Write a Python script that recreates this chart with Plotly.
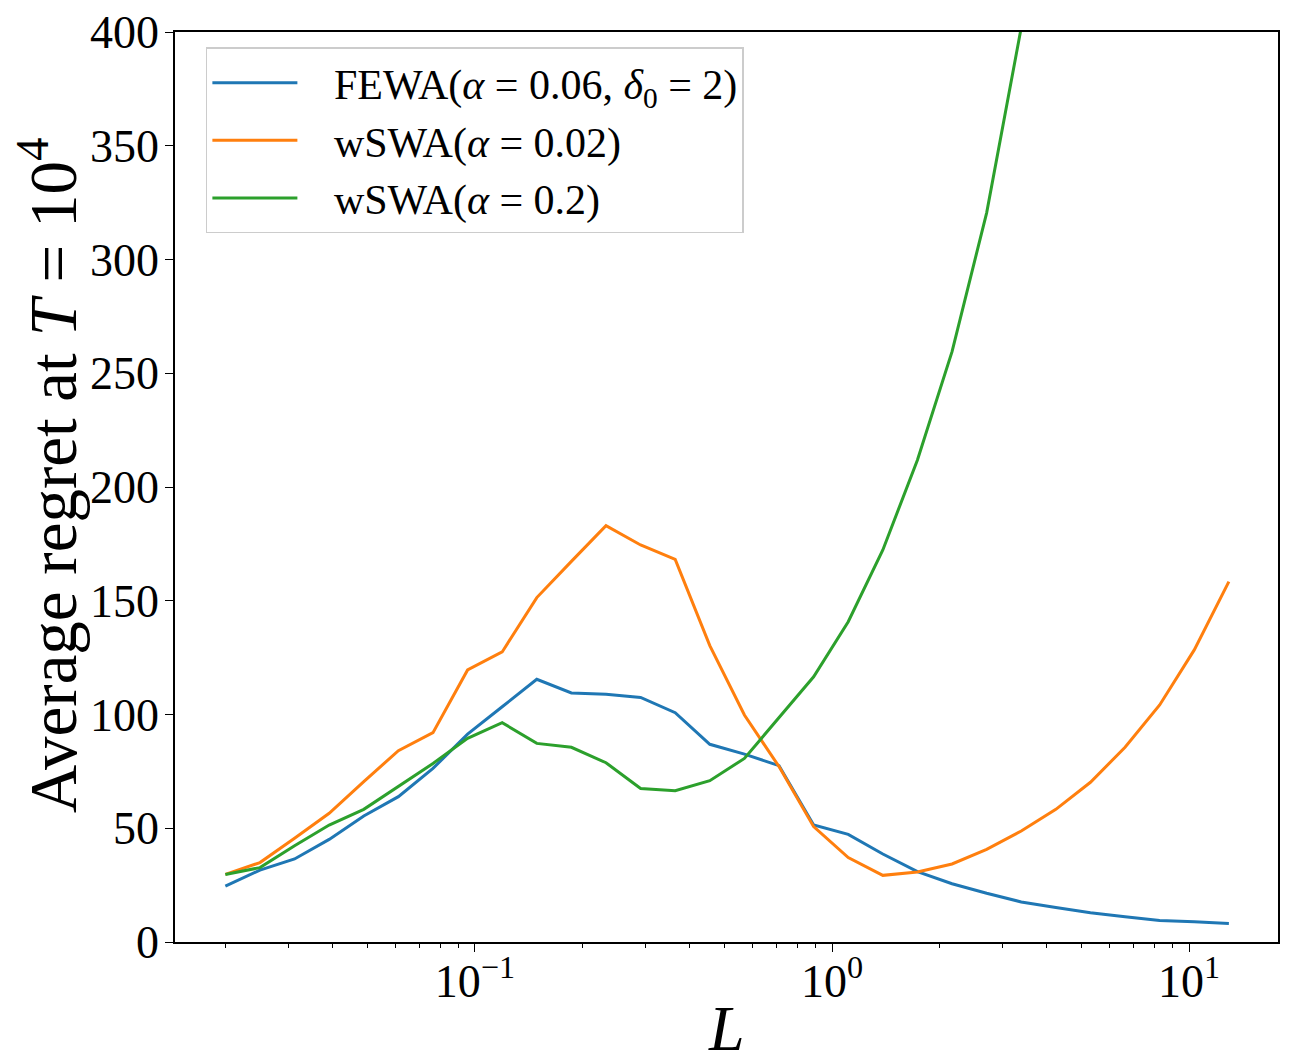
import plotly.graph_objects as go

# x values (L)
L_values = [0.02, 0.025, 0.03125, 0.0390625, 0.048828, 0.061035, 0.076294, 0.095367,
            0.119209, 0.149012, 0.186265, 0.232831, 0.291038, 0.363798, 0.454747,
            0.568434, 0.710543, 0.888178, 1.110223, 1.387779, 1.734723, 2.168404,
            2.710505, 3.388132, 4.235165, 5.293956, 6.617445, 8.271806, 10.339758,
            12.924697]

fewa = [24.6, 31.6, 36.5, 45.1, 55.4, 63.9, 76.3, 91.4, 103.4, 115.5,
        109.5, 108.9, 107.5, 100.8, 86.9, 82.6, 77.5, 51.4, 47.3, 38.7,
        30.9, 25.6, 21.4, 17.6, 15.2, 12.9, 11.1, 9.5, 8.9, 8.1]

wswa_002 = [29.7, 34.9, 45.6, 56.6, 70.5, 84.1, 92.0, 119.6, 127.5, 151.4,
            167.3, 183.0, 174.5, 168.2, 130.3, 99.8, 77.1, 50.7, 37.1, 29.3,
            30.8, 34.3, 40.7, 48.8, 58.3, 70.2, 85.6, 104.2, 128.4, 158.4]

wswa_02 = [29.7, 32.7, 42.3, 51.4, 58.3, 68.6, 78.5, 89.5, 96.4, 87.3,
           85.6, 78.8, 67.5, 66.5, 70.9, 80.7, 98.8, 116.6, 140.8, 172.3,
           211.9, 259.5, 320.5, 402.0]

GAP = "\u00a0\u00a0\u00a0"
series_names = [GAP + "FEWA(<i>α</i> = 0.06, <i>δ</i><sub>0</sub> = 2)",
                GAP + "wSWA(<i>α</i> = 0.02)",
                GAP + "wSWA(<i>α</i> = 0.2)"]
colors = ["#1f77b4", "#ff7f0e", "#2ca02c"]

x_major = [0.1, 1, 10]
x_major_text = ["10<sup>−1</sup>", "10<sup>0</sup>", "10<sup>1</sup>"]
x_minor = [0.02, 0.03, 0.04, 0.05, 0.06, 0.07, 0.08, 0.09,
           0.2, 0.3, 0.4, 0.5, 0.6, 0.7, 0.8, 0.9,
           2, 3, 4, 5, 6, 7, 8, 9]
y_ticks = [0, 50, 100, 150, 200, 250, 300, 350, 400]

FONT = "Liberation Serif, Times New Roman, serif"

fig = go.Figure()
for ys, name, c in zip([fewa, wswa_002, wswa_02], series_names, colors):
    fig.add_trace(go.Scatter(x=L_values[:len(ys)], y=ys, mode="lines", name=name,
                             line=dict(color=c, width=3)))

fig.update_layout(
    width=1290, height=1064,
    margin=dict(l=175, r=12, t=32, b=122),
    paper_bgcolor="white", plot_bgcolor="white",
    font=dict(family=FONT, size=46, color="black"),
    showlegend=True,
    legend=dict(x=0.028, y=0.983, xanchor="left", yanchor="top",
                bgcolor="rgba(255,255,255,0.8)", bordercolor="#cccccc", borderwidth=1.5,
                font=dict(family=FONT, size=42, color="black"),
                itemwidth=85, tracegroupgap=0),
    annotations=[
        dict(text="<i>L</i>", xref="paper", yref="paper", x=0.5, y=-0.095,
             xanchor="center", yanchor="middle", showarrow=False,
             font=dict(family=FONT, size=64, color="black")),
        dict(text="Average regret at <i>T</i> = 10<sup>4</sup>", xref="paper", yref="paper",
             x=-0.115, y=0.513, xanchor="center", yanchor="middle", textangle=-90,
             showarrow=False, font=dict(family=FONT, size=67, color="black")),
    ],
)

fig.update_xaxes(
    type="log", range=[-1.840, 1.249], automargin=False,
    tickvals=x_major, ticktext=x_major_text, ticklabelstandoff=-10,
    ticks="outside", ticklen=8, tickwidth=1.3, tickcolor="black",
    showline=True, mirror=True, linecolor="black", linewidth=1.5,
    showgrid=False, zeroline=False,
    tickfont=dict(family=FONT, size=46),
    minor=dict(tickvals=x_minor, ticks="outside", ticklen=4, tickwidth=1, tickcolor="black", showgrid=False),
)
fig.update_yaxes(
    range=[0, 400], tickvals=y_ticks, automargin=False, ticklabelstandoff=-3,
    ticks="outside", ticklen=8, tickwidth=1.3, tickcolor="black",
    showline=True, mirror=True, linecolor="black", linewidth=1.5,
    showgrid=False, zeroline=False,
    tickfont=dict(family=FONT, size=46),
)

fig.write_html("out.html")
